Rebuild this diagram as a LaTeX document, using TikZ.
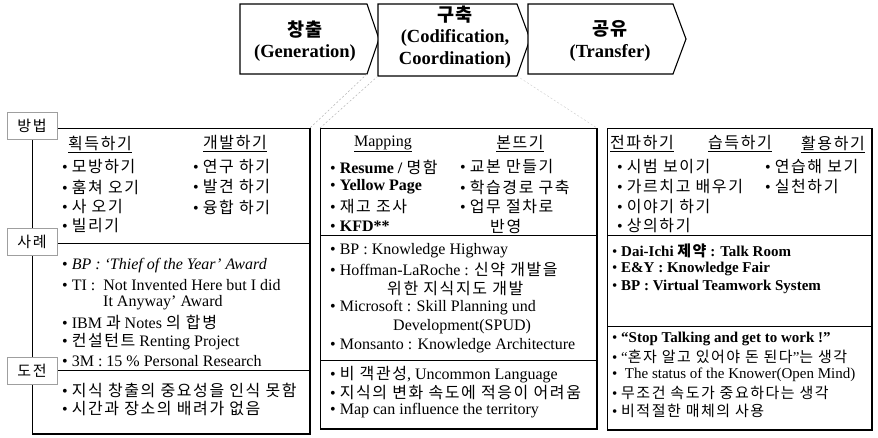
\documentclass[tikz,border=0pt]{standalone}
\usepackage{fontspec}
\setmainfont{Liberation Serif}
\newfontfamily\kr[LetterSpace=10]{Noto Sans CJK KR}
\newcommand\K[1]{{\kr #1}}
\begin{document}
\begin{tikzpicture}[x=1pt,y=-1pt,
  chev/.style={draw=black,line width=1.1pt,fill=white,line join=miter},
  ctext/.style={align=center,inner sep=0pt,font=\bfseries\fontsize{18.5}{21.5}\selectfont},
  panel/.style={draw=black,line width=0.8pt,inner sep=0pt,outer sep=0pt,anchor=north west},
  shade/.style={line width=2.2pt},
  sepline/.style={line width=0.8pt},
  lab/.style={draw=gray!75,line width=0.6pt,fill=white,minimum width=50pt,minimum height=27pt,inner sep=0pt,font=\kr\fontsize{15}{15}\selectfont},
  t/.style={anchor=west,inner sep=0pt,font=\fontsize{16}{16}\selectfont},
  ts/.style={anchor=west,inner sep=0pt,font=\fontsize{15}{15}\selectfont},
  hd/.style={anchor=center,inner sep=0pt,font=\fontsize{16}{16}\selectfont},
  zoomline/.style={gray!60,line width=0.5pt,dash pattern=on 2pt off 2pt}]
\useasboundingbox (0,0) rectangle (878,437);

% chevrons
\coordinate (c1tl) at (240,4);  \coordinate (c1bl) at (240,74);
\coordinate (c1br) at (367,74); \coordinate (c1tip) at (379,39);
\coordinate (c2tl) at (378,4);  \coordinate (c2bl) at (378,76);
\coordinate (c2br) at (517,76); \coordinate (c2tip) at (530,39);
\coordinate (c3tl) at (528,4);  \coordinate (c3bl) at (528,74);
\coordinate (c3br) at (673,74); \coordinate (c3tip) at (686,39);
\draw[chev] (c1tl) -- (367,4) -- (c1tip) -- (c1br) -- (c1bl) -- cycle;
\draw[chev] (c2tl) -- (517,4) -- (c2tip) -- (c2br) -- (c2bl) -- cycle;
\draw[chev] (c3tl) -- (673,4) -- (c3tip) -- (c3br) -- (c3bl) -- cycle;
\node[ctext] (g1) at (305,41) {\K{창출}\\(Generation)};
\node[ctext] (g2) at (455,37) {\K{구축}\\(Codification,\\Coordination)};
\node[ctext] (g3) at (610,41) {\K{공유}\\(Transfer)};

% panels
\node[panel,minimum width=278pt,minimum height=306pt] (L) at (32,128) {};
\node[panel,minimum width=277pt,minimum height=301pt] (M) at (320,128) {};
\node[panel,minimum width=265pt,minimum height=302pt] (R) at (607,128) {};
\draw[shade] (L.north east) -- (L.south east) -- (L.south west);
\draw[shade] (M.north east) -- (M.south east) -- (M.south west);
\draw[shade] (R.north east) -- (R.south east) -- (R.south west);
\draw[sepline] (L.west |- 0,243) -- (L.east |- 0,243);
\draw[sepline] (L.west |- 0,370) -- (L.east |- 0,370);
\draw[sepline] (M.west |- 0,235) -- (M.east |- 0,235);
\draw[sepline] (M.west |- 0,360) -- (M.east |- 0,360);
\draw[sepline] (R.west |- 0,235) -- (R.east |- 0,235);
\draw[sepline] (R.west |- 0,326) -- (R.east |- 0,326);

% zoom lines
\draw[zoomline] (c2bl) -- (M.north west);
\draw[zoomline] (c1br) -- (L.north east);
\draw[zoomline,gray!35] (c2br) -- (M.north east);

% labels
\node[lab] (m1) at (32,126) {방법};
\node[lab] (m2) at (32,242) {사례};
\node[lab] (m3) at (32,371) {도전};

% left panel
\node[hd] (l0a) at (100,144) {\underline{\K{획득하기}}};
\node[hd] (l0b) at (235,144) {\underline{\K{개발하기}}};
\node[t] (l1) at (62,167) {• \K{모방하기}};
\node[t] (l2) at (62,187) {• \K{훔쳐 오기}};
\node[t] (l3) at (62,207) {• \K{사 오기}};
\node[t] (l4) at (62,226) {• \K{빌리기}};
\node[t] (l5) at (193,167) {• \K{연구 하기}};
\node[t] (l6) at (193,187) {• \K{발견 하기}};
\node[t] (l7) at (193,207) {• \K{융합 하기}};
\node[t] (l8) at (62,266) {• \textit{BP : ‘Thief of the Year’ Award}};
\node[t] (l9) at (62,285) {• TI :\ \ Not Invented Here but I did};
\node[t] (l10) at (103,303) {It Anyway’ Award};
\node[t] (l11) at (62,322) {• IBM \K{과} Notes \K{의 합병}};
\node[t] (l12) at (62,342) {• \K{컨설턴트} Renting Project};
\node[t] (l13) at (62,361) {• 3M : 15 \% Personal Research};
\node[t] (l14) at (62,390) {• \K{지식 창출의 중요성을 인식 못함}};
\node[t] (l15) at (62,409) {• \K{시간과 장소의 배려가 없음}};

% middle panel
\node[hd] (m0a) at (383,144) {\underline{Mapping}};
\node[hd] (m0b) at (520,144) {\underline{\K{본뜨기}}};
\node[t] (n1) at (330,167) {• \textbf{Resume /} \K{명함}};
\node[t] (n2) at (330,187) {• \textbf{Yellow Page}};
\node[t] (n3) at (330,207) {• \K{재고 조사}};
\node[t] (n4) at (330,226) {• \textbf{KFD**}};
\node[t] (n5) at (460,167) {• \K{교본 만들기}};
\node[t] (n6) at (460,187) {• \K{학습경로 구축}};
\node[t] (n7) at (460,207) {• \K{업무 절차로}};
\node[t] (n8) at (490,226) {\K{반영}};
\node[t] (n9) at (330,251) {• BP : Knowledge Highway};
\node[t] (n10) at (330,270) {• Hoffman-LaRoche : \K{신약 개발을}};
\node[t] (n11) at (387,289) {\K{위한 지식지도 개발}};
\node[t] (n12) at (330,308) {• Microsoft : Skill Planning und};
\node[t] (n13) at (393,327) {Development(SPUD)};
\node[t] (n14) at (330,346) {• Monsanto : Knowledge Architecture};
\node[t] (n15) at (330,375) {• \K{비 객관성}, Uncommon Language};
\node[t] (n16) at (330,393) {• \K{지식의 변화 속도에 적응이 어려움}};
\node[t] (n17) at (330,411) {• Map can influence the territory};

% right panel
\node[hd] (r0a) at (642,144) {\underline{\K{전파하기}}};
\node[hd] (r0b) at (740,144) {\underline{\K{습득하기}}};
\node[hd] (r0c) at (833,144) {\underline{\K{활용하기}}};
\node[t] (r1) at (617,167) {• \K{시범 보이기}};
\node[t] (r2) at (617,187) {• \K{가르치고 배우기}};
\node[t] (r3) at (617,207) {• \K{이야기 하기}};
\node[t] (r4) at (617,226) {• \K{상의하기}};
\node[t] (r5) at (765,167) {• \K{연습해 보기}};
\node[t] (r6) at (765,187) {• \K{실천하기}};
\node[ts] (r7) at (612,251) {• \textbf{Dai-Ichi \K{제약} : Talk Room}};
\node[ts] (r8) at (612,269) {• \textbf{E\&Y : Knowledge Fair}};
\node[ts] (r9) at (612,287) {• \textbf{BP : Virtual Teamwork System}};
\node[ts] (r10) at (612,339) {• \textbf{“Stop Talking and get to work !”}};
\node[ts] (r11) at (612,357) {• “\K{혼자 알고 있어야 돈 된다}”\K{는 생각}};
\node[ts] (r12) at (612,375) {•\ \ The status of the Knower(Open Mind)};
\node[ts] (r13) at (612,393) {• \K{무조건 속도가 중요하다는 생각}};
\node[ts] (r14) at (612,411) {• \K{비적절한 매체의 사용}};
\end{tikzpicture}
\end{document}
